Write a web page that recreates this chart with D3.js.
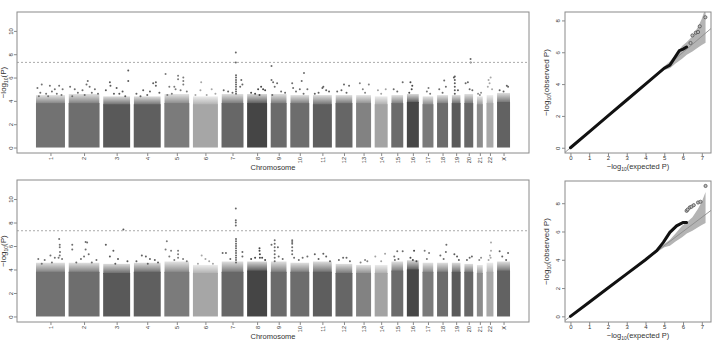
<!DOCTYPE html>
<html>
<head>
<meta charset="utf-8">
<script src="https://cdn.jsdelivr.net/npm/d3@7"></script>
<style>
body{margin:0;background:#fff}
text{font-family:"Liberation Sans",Arial,sans-serif;fill:#333}
</style>
</head>
<body>
<svg id="chart" width="715" height="341"></svg>
<script>
//Data---------------------------------------------------------
var chroms = ["1","2","3","4","5","6","7","8","9","10","11","12","13","14","15","16","17","18","19","20","21","22","X"];
//markers per chromosome (x10k)
var chrSnps = [290,310,270,270,250,250,220,200,160,190,190,170,150,130,120,120,110,110,90,90,60,70,130];
var chrGap = 36;

//top of the solid mass of markers, and top of the dense scatter above it
var dense1 = [3.8,3.8,3.7,3.7,3.8,3.7,3.8,3.8,3.8,3.8,3.7,3.8,3.8,3.7,3.8,3.9,3.7,3.8,3.8,3.8,3.7,3.8,3.9];
var fringe1 = [4.5,4.6,4.4,4.4,4.6,4.4,4.6,4.6,4.6,4.5,4.5,4.5,4.5,4.4,4.5,4.6,4.4,4.5,4.5,4.6,4.4,4.5,4.7];
var dense2 = [3.8,3.8,3.7,3.8,3.8,3.7,3.8,3.9,3.8,3.8,3.8,3.7,3.7,3.7,3.9,4.0,3.8,3.8,3.8,3.8,3.7,3.8,3.9];
var fringe2 = [4.6,4.6,4.5,4.6,4.7,4.4,4.7,4.7,4.7,4.6,4.7,4.5,4.4,4.4,4.7,4.8,4.6,4.6,4.6,4.5,4.4,4.6,4.7];

//markers above the band: [position within chromosome, -log10 P]
var hits1 = [
 [[0.05,5.1],[0.2,5.4],[0.48,5.3],[0.65,5.0],[0.8,5.3],[0.92,5.0],[0.15,4.7],[0.35,4.6],[0.55,4.8],[0.72,4.6],[0.1,4.4],[0.42,4.4],[0.88,4.5]],
 [[0.05,5.2],[0.2,5.0],[0.45,4.9],[0.58,5.4],[0.62,5.7],[0.68,5.2],[0.85,5.0],[0.3,4.7],[0.75,4.7],[0.95,4.6],[0.12,4.4],[0.52,4.5]],
 [[0.25,5.6],[0.27,5.3],[0.5,5.1],[0.72,4.8],[0.93,6.6],[0.93,5.7],[0.1,4.9],[0.4,4.6],[0.6,4.6],[0.82,4.4]],
 [[0.35,4.9],[0.72,5.5],[0.82,5.6],[0.82,5.3],[0.6,4.8],[0.1,4.6],[0.95,4.7],[0.25,4.4],[0.5,4.5]],
 [[0.05,6.3],[0.2,5.2],[0.4,5.2],[0.55,6.15],[0.55,5.85],[0.76,6.0],[0.76,5.7],[0.76,5.4],[0.45,5.0],[0.65,4.9],[0.9,4.8],[0.3,4.6],[0.12,4.5]],
 [[0.33,5.6],[0.75,5.0],[0.3,4.9],[0.55,4.5],[0.9,4.6],[0.1,4.5]],
 [[0.65,8.15],[0.65,7.3],[0.66,6.2],[0.66,6.0],[0.66,5.8],[0.66,5.6],[0.66,5.4],[0.66,5.2],[0.66,5.0],[0.66,4.8],[0.66,4.6],[0.9,5.8],[0.95,5.4],[0.85,5.2],[0.1,4.9],[0.3,4.8],[0.5,4.7]],
 [[0.2,4.7],[0.55,5.0],[0.7,5.2],[0.8,5.0],[0.9,4.9],[0.4,4.6],[0.62,4.5]],
 [[0.05,7.0],[0.05,5.8],[0.15,5.6],[0.4,5.5],[0.25,5.2],[0.65,4.8],[0.9,4.7],[0.1,4.5]],
 [[0.1,5.5],[0.15,5.1],[0.6,5.7],[0.72,6.4],[0.5,5.0],[0.9,5.0],[0.3,4.8],[0.7,4.6]],
 [[0.1,4.6],[0.5,5.1],[0.7,4.9],[0.85,4.8],[0.55,5.2],[0.3,4.7]],
 [[0.5,5.4],[0.8,5.3],[0.1,4.8],[0.35,4.9],[0.65,4.7]],
 [[0.25,5.5],[0.45,5.0],[0.85,5.4],[0.6,4.7]],
 [[0.25,4.9],[0.85,5.0],[0.5,4.6]],
 [[0.95,5.6],[0.2,5.0],[0.5,4.8]],
 [[0.3,5.6],[0.45,5.3],[0.4,5.0],[0.2,4.7]],
 [[0.55,5.1],[0.4,4.8],[0.7,4.6]],
 [[0.65,5.75],[0.2,5.0],[0.8,5.2],[0.5,4.7]],
 [[0.35,6.1],[0.25,6.0],[0.35,5.8],[0.35,5.5],[0.35,5.2],[0.35,4.9],[0.35,4.6],[0.7,4.9]],
 [[0.7,7.6],[0.72,7.3],[0.15,5.5],[0.4,5.6],[0.6,5.0],[0.9,4.9]],
 [[0.2,4.6],[0.7,4.7],[0.5,4.5]],
 [[0.3,5.8],[0.6,6.0],[0.45,5.5],[0.2,5.2],[0.8,5.0]],
 [[0.75,5.3],[0.85,5.2],[0.2,4.9],[0.5,4.8]]
];
var hits2 = [
 [[0.8,6.6],[0.82,6.1],[0.82,5.9],[0.83,5.5],[0.5,5.2],[0.65,5.0],[0.78,5.0],[0.08,4.9],[0.3,4.8],[0.9,4.9],[0.82,5.2],[0.2,4.5],[0.55,4.6]],
 [[0.12,6.1],[0.12,5.7],[0.55,6.35],[0.6,6.3],[0.55,5.7],[0.5,5.1],[0.4,4.9],[0.65,5.3],[0.9,4.8],[0.25,4.6],[0.75,4.6]],
 [[0.1,6.1],[0.38,5.6],[0.75,7.4],[0.25,5.1],[0.55,4.9],[0.9,4.7],[0.45,4.5]],
 [[0.3,5.2],[0.45,5.1],[0.6,4.9],[0.78,4.8],[0.1,4.7],[0.9,4.6],[0.52,4.5]],
 [[0.1,6.4],[0.05,5.7],[0.27,5.6],[0.55,5.6],[0.55,5.3],[0.2,5.1],[0.4,4.8],[0.75,4.9],[0.9,4.7],[0.55,5.0]],
 [[0.35,5.2],[0.5,4.9],[0.65,4.7],[0.8,4.5],[0.2,4.5]],
 [[0.65,9.2],[0.65,8.2],[0.65,8.0],[0.65,7.75],[0.66,6.6],[0.66,6.4],[0.66,6.2],[0.66,6.0],[0.66,5.8],[0.66,5.6],[0.66,5.4],[0.66,5.2],[0.66,5.0],[0.66,4.8],[0.66,4.6],[0.95,5.5],[0.95,5.1],[0.05,5.4],[0.2,5.4],[0.4,4.9]],
 [[0.62,5.8],[0.62,5.6],[0.64,5.3],[0.64,5.0],[0.2,4.9],[0.4,5.0],[0.75,5.0],[0.9,4.8]],
 [[0.25,6.5],[0.05,6.1],[0.45,5.9],[0.25,6.2],[0.25,5.9],[0.25,5.6],[0.25,5.3],[0.25,5.0],[0.25,4.7],[0.5,5.1],[0.75,4.9]],
 [[0.1,6.5],[0.1,6.35],[0.1,6.2],[0.1,5.9],[0.1,5.6],[0.1,5.3],[0.2,5.0],[0.65,5.0],[0.9,5.1],[0.45,4.8]],
 [[0.1,5.3],[0.55,5.35],[0.3,4.9],[0.7,5.1],[0.9,4.7]],
 [[0.45,5.0],[0.65,5.0],[0.2,4.8],[0.85,4.7]],
 [[0.6,4.8],[0.75,4.7],[0.3,4.6]],
 [[0.05,5.1],[0.8,5.35],[0.5,4.7]],
 [[0.25,5.1],[0.5,5.55],[0.95,5.55],[0.6,4.9],[0.3,4.8]],
 [[0.6,5.6],[0.3,5.0],[0.5,4.8],[0.8,4.7]],
 [[0.2,5.6],[0.6,5.4],[0.4,4.9]],
 [[0.85,6.1],[0.8,5.5],[0.3,5.2],[0.6,4.9]],
 [[0.3,5.3],[0.6,5.1],[0.8,4.8]],
 [[0.6,5.0],[0.3,4.8],[0.85,5.1]],
 [[0.7,5.0],[0.4,4.8]],
 [[0.65,6.3],[0.65,5.6],[0.5,5.2],[0.6,5.0],[0.3,4.8]],
 [[0.2,5.55],[0.85,5.4],[0.4,5.1],[0.7,4.8]]
];
var sigLine = 7.3;
var manTicks = [0,2,4,6,8,10];

//QQ data: expected vs observed -log10 P
var qq1Exp = [0,1,2,3,4,5,5.3,5.5,5.8,6.0,6.19];
var qq1Obs = [0,1,2,3,4,5,5.2,5.55,6.1,6.2,6.33];
var qq1TailExp = [6.4,6.5,6.68,6.8,6.89,7.19];
var qq1TailObs = [6.58,7.06,7.23,7.27,7.63,8.2];
var qq2Exp = [0,1,2,3,4,4.6,4.95,5.3,5.66,6.0,6.19];
var qq2Obs = [0,1,2,3,4,4.65,5.23,5.94,6.4,6.64,6.64];
var qq2TailExp = [6.19,6.25,6.36,6.45,6.57,6.8,6.93,7.2];
var qq2TailObs = [7.46,7.55,7.7,7.75,7.86,8.05,8.1,9.22];
//95% band
var bandExp = [0,4,4.5,5,5.3,5.6,5.95,6.2,6.5,6.8,7.0,7.2];
var bandLo  = [0,3.97,4.43,4.88,5.0,5.3,5.6,5.85,6.05,6.3,6.45,6.6];
var bandHi  = [0,4.03,4.57,5.12,5.42,5.85,6.4,6.65,7.0,7.6,8.1,8.8];
var qqXTicks = [0,1,2,3,4,5,6,7];
var qqYTicks = [0,2,4,6,8];

//Styles-------------------------------------------------------
var chrGrey = ["#727272","#6e6e6e","#595959","#5f5f5f","#7b7b7b","#a6a6a6","#676767","#454545","#6b6b6b","#6d6d6d","#5e5e5e","#666666","#828282","#a3a3a3","#6b6b6b","#474747","#7a7a7a","#6c6c6c","#5a5a5a","#676767","#8c8c8c","#a8a8a8","#626262"];
var frameCol = "#8a8a8a";

var svg = d3.select("#chart");

//fade mask for the dense scatter zone: thin at the top, solid at the bottom
var defs = svg.append("defs");
var grad = defs.append("linearGradient").attr("id","fadeGrad")
  .attr("x1",0).attr("y1",0).attr("x2",0).attr("y2",1);
grad.append("stop").attr("offset","0%").attr("stop-color","#333");
grad.append("stop").attr("offset","100%").attr("stop-color","#eee");
defs.append("mask").attr("id","fadeMask")
  .attr("maskContentUnits","objectBoundingBox")
  .append("rect").attr("width",1).attr("height",1).attr("fill","url(#fadeGrad)");

//chromosome start offsets
var chrStart = [];
var acc = 0;
chrSnps.forEach(function(s){ chrStart.push(acc); acc += s + chrGap; });
var total = acc - chrGap;

var xMan = d3.scaleLinear().domain([-0.04*total, 1.04*total]).range([17,529]);

function styleAxis(g){
  g.select(".domain").remove();
  g.selectAll(".tick line").attr("stroke",frameCol);
  g.selectAll(".tick text").style("font-size","6px").attr("fill","#333");
}

function logLabel(sel, pre, post){
  sel.append("tspan").text(pre + "log");
  sel.append("tspan").text("10").attr("dy","1.5").style("font-size","5px");
  sel.append("tspan").text(post).attr("dy","-1.5");
}

//Draws Manhattan panel-----------------------------------------
function drawManhattan(top, bottom, dense, fringe, hits){
  var y = d3.scaleLinear().domain([-0.47,11.62]).range([bottom, top]);
  var g = svg.append("g");

  //dense scatter zone just above the solid mass
  g.selectAll("rect.fringe")
    .data(chroms)
    .enter()
    .append("rect")
    .attr("class","fringe")
    .attr("x", function(d,i){ return xMan(chrStart[i]); })
    .attr("width", function(d,i){ return xMan(chrStart[i]+chrSnps[i]) - xMan(chrStart[i]); })
    .attr("y", function(d,i){ return y(fringe[i]); })
    .attr("height", function(d,i){ return y(dense[i]) - y(fringe[i]) + 1; })
    .attr("fill", function(d,i){ return chrGrey[i]; })
    .attr("mask","url(#fadeMask)");

  g.selectAll("rect.chr")
    .data(chroms)
    .enter()
    .append("rect")
    .attr("class","chr")
    .attr("x", function(d,i){ return xMan(chrStart[i]); })
    .attr("width", function(d,i){ return xMan(chrStart[i]+chrSnps[i]) - xMan(chrStart[i]); })
    .attr("y", function(d,i){ return y(dense[i]); })
    .attr("height", function(d,i){ return y(0) - y(dense[i]); })
    .attr("fill", function(d,i){ return chrGrey[i]; });

  var pts = [];
  hits.forEach(function(h,i){
    h.forEach(function(p){ pts.push({i:i, pos:p[0], v:p[1]}); });
  });
  g.selectAll("circle")
    .data(pts)
    .enter()
    .append("circle")
    .attr("cx", function(d){ return xMan(chrStart[d.i] + d.pos*chrSnps[d.i]); })
    .attr("cy", function(d){ return y(d.v); })
    .attr("r", 1)
    .attr("fill", function(d){ return chrGrey[d.i]; });

  g.append("line")
    .attr("x1",17).attr("x2",529)
    .attr("y1",y(sigLine)).attr("y2",y(sigLine))
    .attr("stroke","#aaa").attr("stroke-dasharray","2,2");

  g.append("rect")
    .attr("x",17).attr("y",top).attr("width",512).attr("height",bottom-top)
    .attr("fill","none").attr("stroke",frameCol);

  var ya = g.append("g").attr("transform","translate(17,0)")
    .call(d3.axisLeft(y).tickValues(manTicks).tickSize(3));
  styleAxis(ya);
  ya.selectAll(".tick text")
    .attr("x",0).attr("y",-4).attr("dy",0)
    .attr("transform","rotate(-90)")
    .attr("text-anchor","middle");

  var xa = g.append("g").attr("transform","translate(0,"+bottom+")")
    .call(d3.axisBottom(xMan)
      .tickValues(chrStart.map(function(s,i){ return s + chrSnps[i]/2; }))
      .tickFormat(function(d,i){ return chroms[i]; })
      .tickSize(3));
  styleAxis(xa);
  xa.selectAll(".tick text")
    .style("font-size","5.5px")
    .attr("x",-4).attr("y",0).attr("dy","0.35em")
    .attr("transform","rotate(-90)")
    .attr("text-anchor","end");

  g.append("text")
    .attr("x",273).attr("y",bottom+17)
    .attr("text-anchor","middle")
    .style("font-size","7.5px")
    .text("Chromosome");

  var yl = g.append("text")
    .attr("transform","translate(6,"+((top+bottom)/2)+") rotate(-90)")
    .attr("text-anchor","middle")
    .style("font-size","8px");
  logLabel(yl, "\u2212", "(P)");
}

//Draws QQ panel------------------------------------------------
function drawQQ(top, bottom, yDom, ex, ob, tEx, tOb){
  var x = d3.scaleLinear().domain([-0.29,7.49]).range([565,711]);
  var y = d3.scaleLinear().domain(yDom).range([bottom, top]);
  var g = svg.append("g");
  var clipId = "clip" + top;
  g.append("clipPath").attr("id",clipId)
    .append("rect").attr("x",565).attr("y",top).attr("width",146).attr("height",bottom-top);

  var inner = g.append("g").attr("clip-path","url(#"+clipId+")");

  var band = bandExp.map(function(e,i){ return {e:e, lo:bandLo[i], hi:bandHi[i]}; });
  inner.append("path")
    .datum(band)
    .attr("d", d3.area()
      .x(function(d){ return x(d.e); })
      .y0(function(d){ return y(d.lo); })
      .y1(function(d){ return y(d.hi); }))
    .attr("fill","#b4b4b4");

  inner.append("line")
    .attr("x1",x(-0.5)).attr("y1",y(-0.5))
    .attr("x2",x(9.7)).attr("y2",y(9.7))
    .attr("stroke","#8c8c8c").attr("stroke-width",0.9);

  var pts = ex.map(function(e,i){ return [e, ob[i]]; });
  inner.append("path")
    .datum(pts)
    .attr("d", d3.line()
      .x(function(d){ return x(d[0]); })
      .y(function(d){ return y(d[1]); }))
    .attr("fill","none").attr("stroke","#111")
    .attr("stroke-width",3).attr("stroke-linecap","round");

  inner.selectAll("circle")
    .data(tEx.map(function(e,i){ return [e, tOb[i]]; }))
    .enter()
    .append("circle")
    .attr("cx", function(d){ return x(d[0]); })
    .attr("cy", function(d){ return y(d[1]); })
    .attr("r",1.6)
    .attr("fill","#bbb").attr("stroke","#444").attr("stroke-width",0.7);

  g.append("rect")
    .attr("x",565).attr("y",top).attr("width",146).attr("height",bottom-top)
    .attr("fill","none").attr("stroke",frameCol);

  var ya = g.append("g").attr("transform","translate(565,0)")
    .call(d3.axisLeft(y).tickValues(qqYTicks).tickSize(3));
  styleAxis(ya);
  ya.selectAll(".tick text")
    .attr("x",0).attr("y",-5).attr("dy",0)
    .attr("transform","rotate(-90)")
    .attr("text-anchor","middle");

  var xa = g.append("g").attr("transform","translate(0,"+bottom+")")
    .call(d3.axisBottom(x).tickValues(qqXTicks).tickSize(3));
  styleAxis(xa);
  xa.selectAll(".tick text").attr("y",3);

  var xl = g.append("text")
    .attr("x",638).attr("y",bottom+16)
    .attr("text-anchor","middle")
    .style("font-size","7.5px");
  logLabel(xl, "\u2212", "(expected P)");

  var yl = g.append("text")
    .attr("transform","translate(549,"+((top+bottom)/2)+") rotate(-90)")
    .attr("text-anchor","middle")
    .style("font-size","8px");
  logLabel(yl, "\u2212", "(observed P)");
}

drawManhattan(12, 153, dense1, fringe1, hits1);
drawManhattan(180, 322, dense2, fringe2, hits2);
drawQQ(12, 153, [-0.33,8.53], qq1Exp, qq1Obs, qq1TailExp, qq1TailObs);
drawQQ(181, 322, [-0.4,9.57], qq2Exp, qq2Obs, qq2TailExp, qq2TailObs);
</script>
</body>
</html>
